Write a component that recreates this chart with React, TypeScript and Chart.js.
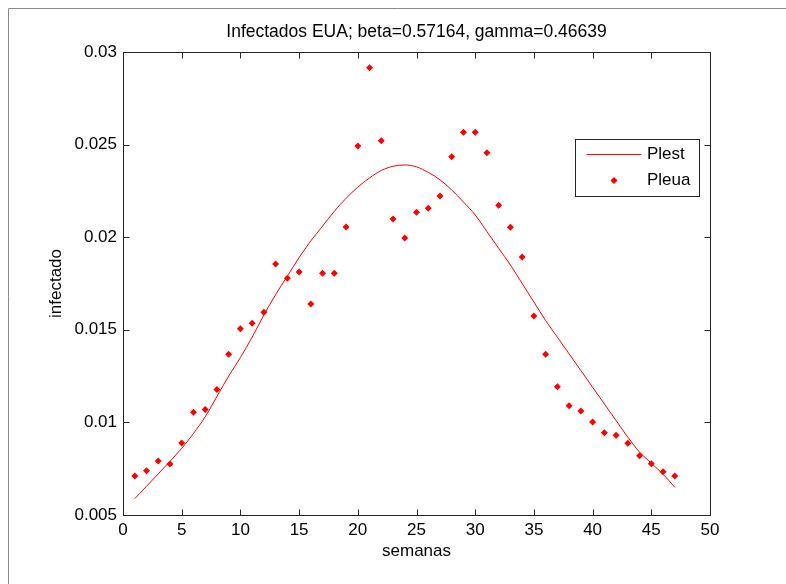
import React, { useEffect, useRef } from "react";
import { Chart, registerables } from "chart.js";

Chart.register(...registerables);

const weeks = [1, 2, 3, 4, 5, 6, 7, 8, 9, 10, 11, 12, 13, 14, 15, 16, 17, 18, 19, 20, 21, 22, 23, 24, 25, 26, 27, 28, 29, 30, 31, 32, 33, 34, 35, 36, 37, 38, 39, 40, 41, 42, 43, 44, 45, 46, 47];

const pleua = [0.0071, 0.00739, 0.00792, 0.00775, 0.00889, 0.01055, 0.01069, 0.01177, 0.01368, 0.01506, 0.01535, 0.01595, 0.01855, 0.01778, 0.01812, 0.01639, 0.01805, 0.01805, 0.02055, 0.02493, 0.02915, 0.02521, 0.02098, 0.01996, 0.02135, 0.02156, 0.02223, 0.02435, 0.02567, 0.02567, 0.02456, 0.02172, 0.02054, 0.01893, 0.01574, 0.01368, 0.01193, 0.0109, 0.01062, 0.01002, 0.00944, 0.0093, 0.00887, 0.0082, 0.00777, 0.00734, 0.0071];

const plest = [0.00588, 0.00655, 0.00722, 0.0079, 0.0086, 0.0094, 0.0103, 0.0114, 0.0125, 0.0135, 0.0146, 0.0158, 0.0169, 0.0179, 0.0189, 0.0198, 0.0206, 0.0214, 0.0221, 0.0227, 0.0232, 0.0236, 0.02383, 0.0239, 0.0238, 0.0235, 0.0231, 0.02255, 0.0219, 0.0212, 0.0203, 0.0194, 0.0185, 0.0175, 0.0165, 0.0155, 0.0146, 0.0137, 0.0128, 0.0119, 0.011, 0.0101, 0.0092, 0.0084, 0.0078, 0.0072, 0.0065];

const xTicks = [0, 5, 10, 15, 20, 25, 30, 35, 40, 45, 50];
const yTicks = [0.005, 0.01, 0.015, 0.02, 0.025, 0.03];

const titleText = "Infectados EUA; beta=0.57164, gamma=0.46639";
const xLabel = "semanas";
const yLabel = "infectado";

const FONT = "'Liberation Sans', Arial, sans-serif";
const AXIS_COLOR = "#262626";

const matlabPlugin = {
  id: "matlabStyle",
  beforeDraw(chart: any) {
    const { ctx, width, height } = chart;
    ctx.save();
    ctx.fillStyle = "#ffffff";
    ctx.fillRect(0, 0, width, height);
    ctx.strokeStyle = "#8a8a8a";
    ctx.lineWidth = 1;
    ctx.beginPath();
    ctx.moveTo(8.5, height);
    ctx.lineTo(8.5, 8.5);
    ctx.lineTo(width, 8.5);
    ctx.stroke();
    ctx.restore();
  },
  afterDatasetsDraw(chart: any) {
    const { ctx, chartArea, scales } = chart;
    const { left, right, top, bottom } = chartArea;
    const xs = scales.x;
    const ys = scales.y;
    ctx.save();
    ctx.strokeStyle = AXIS_COLOR;
    ctx.lineWidth = 1;
    const L = Math.round(left) + 0.5;
    const R = Math.round(right) + 0.5;
    const T = Math.round(top) + 0.5;
    const B = Math.round(bottom) + 0.5;
    ctx.beginPath();
    ctx.rect(L, T, R - L, B - T);
    ctx.stroke();
    const tl = 6;
    ctx.beginPath();
    xTicks.forEach((v) => {
      const px = Math.round(xs.getPixelForValue(v)) + 0.5;
      ctx.moveTo(px, B);
      ctx.lineTo(px, B - tl);
      ctx.moveTo(px, T);
      ctx.lineTo(px, T + tl);
    });
    yTicks.forEach((v) => {
      const py = Math.round(ys.getPixelForValue(v)) + 0.5;
      ctx.moveTo(L, py);
      ctx.lineTo(L + tl, py);
      ctx.moveTo(R, py);
      ctx.lineTo(R - tl, py);
    });
    ctx.stroke();
    ctx.restore();
  },
  afterDraw(chart: any) {
    const { ctx, chartArea, data } = chart;
    ctx.save();
    // title centred over the axes box
    ctx.fillStyle = "#000000";
    ctx.font = `17.5px ${FONT}`;
    ctx.textAlign = "center";
    ctx.textBaseline = "middle";
    ctx.fillText(titleText, (chartArea.left + chartArea.right) / 2, chartArea.top - 20);

    // legend
    const w = 124;
    const h = 57;
    const bx = Math.round(chartArea.right - 11 - w) + 0.5;
    const by = Math.round(chartArea.top + 87) + 0.5;
    ctx.fillStyle = "#ffffff";
    ctx.fillRect(bx, by, w, h);
    ctx.strokeStyle = AXIS_COLOR;
    ctx.lineWidth = 1;
    ctx.strokeRect(bx, by, w, h);
    const lineDs = data.datasets[0];
    const ptDs = data.datasets[1];
    const row1 = by + 15;
    const row2 = by + 41;
    ctx.strokeStyle = lineDs.borderColor;
    ctx.lineWidth = lineDs.borderWidth;
    ctx.beginPath();
    ctx.moveTo(bx + 11, row1);
    ctx.lineTo(bx + 66, row1);
    ctx.stroke();
    ctx.fillStyle = ptDs.backgroundColor;
    const cx = bx + 38.5;
    const r = ptDs.pointRadius;
    ctx.beginPath();
    ctx.moveTo(cx, row2 - r);
    ctx.lineTo(cx + r, row2);
    ctx.lineTo(cx, row2 + r);
    ctx.lineTo(cx - r, row2);
    ctx.closePath();
    ctx.fill();
    ctx.fillStyle = "#000000";
    ctx.font = `17px ${FONT}`;
    ctx.textAlign = "left";
    ctx.textBaseline = "middle";
    ctx.fillText(lineDs.label, bx + 71.5, row1);
    ctx.fillText(ptDs.label, bx + 71.5, row2);
    ctx.restore();
  },
};

export default function App() {
  const canvasRef = useRef<HTMLCanvasElement | null>(null);

  useEffect(() => {
    if (!canvasRef.current) return;
    Chart.defaults.font.family = FONT;
    const chart = new Chart(canvasRef.current, {
      type: "scatter",
      data: {
        datasets: [
          {
            type: "line",
            label: "Plest",
            data: weeks.map((w, i) => ({ x: w, y: plest[i] })),
            borderColor: "#ff0000",
            backgroundColor: "#ff0000",
            borderWidth: 1,
            pointRadius: 0,
            cubicInterpolationMode: "monotone",
            fill: false,
          } as any,
          {
            type: "scatter",
            label: "Pleua",
            data: weeks.map((w, i) => ({ x: w, y: pleua[i] })),
            pointStyle: "rectRot",
            pointRadius: 3.5,
            backgroundColor: "#ff0000",
            borderColor: "#ff0000",
            borderWidth: 0,
          } as any,
        ],
      },
      options: {
        responsive: false,
        animation: false,
        layout: { padding: { top: 52, right: 76, left: 0, bottom: 0 } },
        plugins: {
          legend: { display: false },
          tooltip: { enabled: false },
          title: { display: false },
        },
        scales: {
          x: {
            type: "linear",
            min: 0,
            max: 50,
            afterBuildTicks: (s: any) => {
              s.ticks = xTicks.map((v) => ({ value: v }));
            },
            afterFit: (s: any) => {
              s.height = 69;
            },
            grid: { display: false, drawTicks: false },
            border: { display: false },
            ticks: {
              color: "#000000",
              font: { size: 17, family: FONT },
              padding: 5,
              maxRotation: 0,
              autoSkip: false,
              callback: (v: any) => String(v),
            },
            title: {
              display: true,
              text: xLabel,
              color: "#000000",
              font: { size: 17, family: FONT },
              padding: { top: 0, bottom: 22.8 },
            },
          },
          y: {
            type: "linear",
            min: 0.005,
            max: 0.03,
            afterBuildTicks: (s: any) => {
              s.ticks = yTicks.map((v) => ({ value: v }));
            },
            afterFit: (s: any) => {
              s.width = 123;
            },
            grid: { display: false, drawTicks: false },
            border: { display: false },
            ticks: {
              color: "#000000",
              font: { size: 17, family: FONT },
              padding: 6,
              autoSkip: false,
              callback: (v: any) => String(Number(Number(v).toFixed(4))),
            },
            title: {
              display: true,
              text: yLabel,
              color: "#000000",
              font: { size: 17, family: FONT },
              padding: { top: 45.8, bottom: 0 },
            },
          },
        },
      },
      plugins: [matlabPlugin],
    });
    return () => chart.destroy();
  }, []);

  return (
    <div style={{ position: "fixed", left: 0, top: 0, width: 786, height: 584, background: "#fff" }}>
      <canvas ref={canvasRef} width={786} height={584} style={{ display: "block" }} />
    </div>
  );
}
